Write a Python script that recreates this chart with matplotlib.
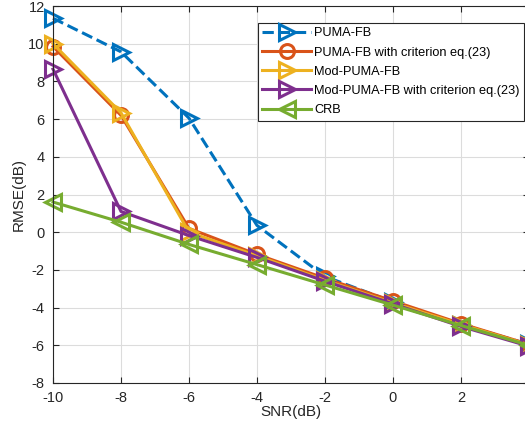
import matplotlib
matplotlib.use("Agg")
import matplotlib.pyplot as plt

plt.rcParams['font.family'] = ['Liberation Sans', 'DejaVu Sans']
plt.rcParams['axes.unicode_minus'] = False

snr = [-10, -8, -6, -4, -2, 0, 2, 4]
puma_fb = [11.35, 9.57, 6.05, 0.36, -2.35, -3.7, -4.9, -5.95]
puma_fb_crit = [9.85, 6.2, 0.2, -1.18, -2.45, -3.65, -4.85, -5.95]
mod_puma_fb = [10.0, 6.33, 0.0, -1.25, -2.55, -3.75, -4.9, -5.98]
mod_puma_fb_crit = [8.65, 1.1, -0.18, -1.34, -2.6, -3.8, -5.0, -6.05]
crb = [1.6, 0.53, -0.65, -1.72, -2.8, -3.87, -4.95, -6.0]

xtick_labels = ['-10', '-8', '-6', '-4', '-2', '0', '2', '']

labels = ['PUMA-FB', 'PUMA-FB with criterion eq.(23)', 'Mod-PUMA-FB',
          'Mod-PUMA-FB with criterion eq.(23)', 'CRB']
colors = ['#0072BD', '#D95319', '#EDB120', '#7E2F8E', '#77AC30']
markers = ['>', 'o', '>', '>', '<']
styles = ['--', '-', '-', '-', '-']
series = [puma_fb, puma_fb_crit, mod_puma_fb, mod_puma_fb_crit, crb]

fig = plt.figure(figsize=(5.25, 4.34), dpi=100)
ax = fig.add_axes([53 / 525, 51 / 434, 476 / 525, 377 / 434])

for y, lab, c, m, ls in zip(series, labels, colors, markers, styles):
    ax.plot(snr, y, linestyle=ls, color=c, marker=m, markersize=12 if m != 'o' else 10,
            markerfacecolor='none', markeredgewidth=2.2, linewidth=2.2, label=lab,
            clip_on=False)

ax.set_xlim(-10, 4)
ax.set_ylim(-8, 12)
ax.set_xticks(snr)
ax.set_xticklabels(xtick_labels)
ax.set_yticks(range(-8, 13, 2))
ax.grid(True, color='#dcdcdc', linewidth=0.8)
ax.set_axisbelow(True)
for s in ax.spines.values():
    s.set_color('#262626')
    s.set_linewidth(0.8)
ax.tick_params(direction='in', length=4, width=0.8, colors='#262626',
               labelsize=10.5, top=True, right=True, pad=6)
ax.set_xlabel('SNR(dB)', fontsize=11, color='#262626', labelpad=0)
ax.set_ylabel('RMSE(dB)', fontsize=11, color='#262626', labelpad=2)

leg = ax.legend(loc='upper right', bbox_to_anchor=(524 / 525, 1 - 23 / 434),
                bbox_transform=fig.transFigure, borderaxespad=0, numpoints=1,
                fontsize=9.2, handlelength=3.8, handletextpad=0.25,
                labelspacing=0.56, borderpad=0.35, fancybox=False,
                framealpha=1, edgecolor='#262626')
leg.get_frame().set_linewidth(0.8)

fig.savefig('out.png', dpi=100)
